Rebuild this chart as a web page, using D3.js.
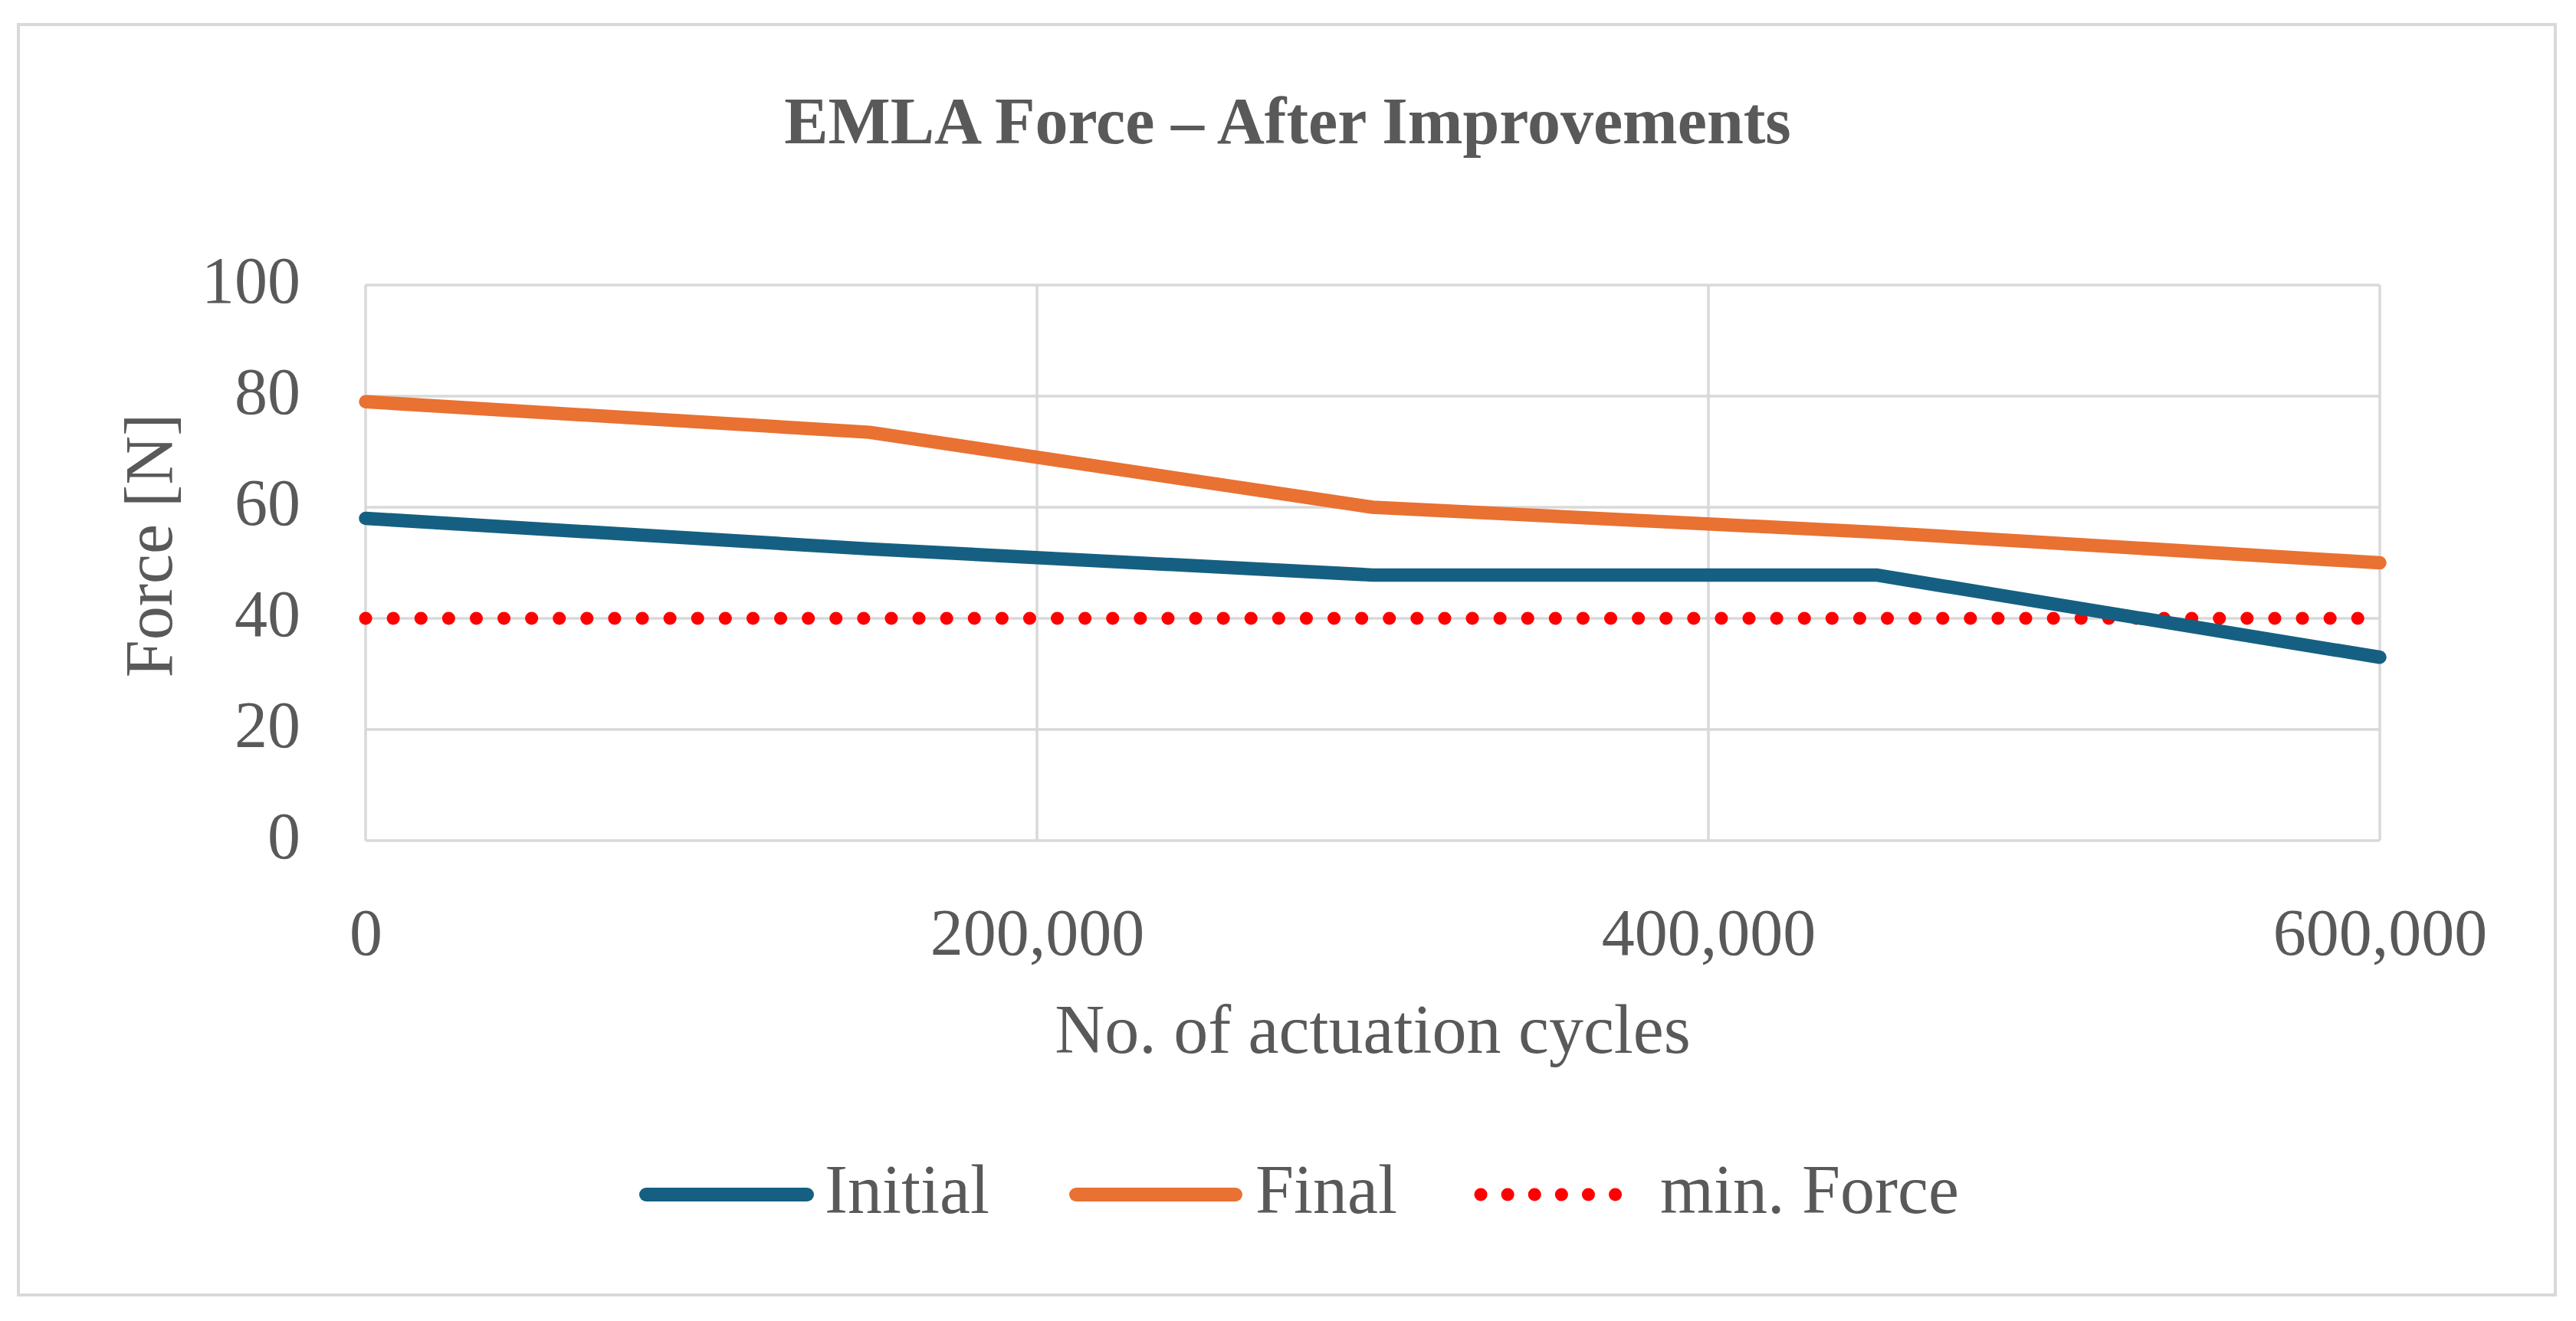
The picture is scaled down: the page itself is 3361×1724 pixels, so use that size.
<!DOCTYPE html>
<html>
<head>
<meta charset="utf-8">
<script src="https://cdn.jsdelivr.net/npm/d3@7"></script>
<style>
  body { margin: 0; background: #fff; }
  text { font-family: "Liberation Serif", "DejaVu Serif", serif; fill: #595959; }
</style>
</head>
<body>
<div id="chart"></div>
<script>
// data
var cycles = [0, 150000, 300000, 450000, 600000];
var initialForce = [58, 52.5, 47.8, 47.8, 33];
var finalForce = [79, 73.5, 60, 55.5, 50];
var minForce = [40, 40, 40, 40, 40];
var xTicks = [0, 200000, 400000, 600000];
var yTicks = [0, 20, 40, 60, 80, 100];
var seriesNames = ["Initial", "Final", "min. Force"];

var W = 3361, H = 1724;
var plot = { left: 477, right: 3105, top: 372, bottom: 1097 };

var svg = d3.select("#chart").append("svg")
    .attr("width", W)
    .attr("height", H);

// outer frame
svg.append("rect")
  .attr("x", 24).attr("y", 32)
  .attr("width", 3310).attr("height", 1658)
  .attr("fill", "#fff")
  .attr("stroke", "#d9d9d9")
  .attr("stroke-width", 4);

var x = d3.scaleLinear().domain([0, 600000]).range([plot.left, plot.right]);
var y = d3.scaleLinear().domain([0, 100]).range([plot.bottom, plot.top]);

// gridlines
var grid = svg.append("g");
grid.selectAll(".hg").data(yTicks).enter().append("line")
  .attr("x1", plot.left).attr("x2", plot.right)
  .attr("y1", function(d) { return y(d); })
  .attr("y2", function(d) { return y(d); })
  .attr("stroke", "#d9d9d9").attr("stroke-width", 3.5);
grid.selectAll(".vg").data(xTicks).enter().append("line")
  .attr("y1", plot.top).attr("y2", plot.bottom)
  .attr("x1", function(d) { return x(d); })
  .attr("x2", function(d) { return x(d); })
  .attr("stroke", "#d9d9d9").attr("stroke-width", 3.5);

// axes, drawn with d3 axis then stripped of domain/ticks
var yAxis = svg.append("g")
  .attr("transform", "translate(" + (plot.left - 85) + ",0)")
  .call(d3.axisLeft(y).tickValues(yTicks).tickSize(0).tickPadding(0));
yAxis.select(".domain").remove();
yAxis.selectAll("text")
  .attr("dy", "0.26em")
  .style("font-size", "86px")
  .style("font-family", "Liberation Serif")
  .attr("fill", "#595959");

var xAxis = svg.append("g")
  .attr("transform", "translate(0," + (plot.bottom + 149) + ")")
  .call(d3.axisBottom(x).tickValues(xTicks).tickFormat(d3.format(",")).tickSize(0).tickPadding(0));
xAxis.select(".domain").remove();
xAxis.selectAll("text")
  .attr("dy", 0)
  .style("font-size", "86px")
  .style("font-family", "Liberation Serif")
  .attr("fill", "#595959");

// lines
var line = d3.line()
  .x(function(d, i) { return x(cycles[i]); })
  .y(function(d) { return y(d); });

svg.append("path").datum(minForce)
  .attr("d", line)
  .attr("fill", "none")
  .attr("stroke", "#ff0000")
  .attr("stroke-width", 17)
  .attr("stroke-linecap", "round")
  .attr("stroke-dasharray", "0.1 36");

svg.append("path").datum(initialForce)
  .attr("d", line)
  .attr("fill", "none")
  .attr("stroke", "#156082")
  .attr("stroke-width", 17.5)
  .attr("stroke-linejoin", "round")
  .attr("stroke-linecap", "round");

svg.append("path").datum(finalForce)
  .attr("d", line)
  .attr("fill", "none")
  .attr("stroke", "#e97132")
  .attr("stroke-width", 17.5)
  .attr("stroke-linejoin", "round")
  .attr("stroke-linecap", "round");

// titles
svg.append("text")
  .attr("x", 1680).attr("y", 187)
  .attr("text-anchor", "middle")
  .style("font-size", "86px")
  .style("font-weight", "bold")
  .text("EMLA Force \u2013 After Improvements");

svg.append("text")
  .attr("x", (plot.left + plot.right) / 2).attr("y", 1374)
  .attr("text-anchor", "middle")
  .style("font-size", "90px")
  .text("No. of actuation cycles");

svg.append("text")
  .attr("transform", "translate(224," + 712 + ") rotate(-90)")
  .attr("text-anchor", "middle")
  .style("font-size", "88px")
  .text("Force [N]");

// legend
var legend = [
  { name: seriesNames[0], color: "#156082", x1: 843, x2: 1053, tx: 1076, dash: null },
  { name: seriesNames[1], color: "#e97132", x1: 1404, x2: 1612, tx: 1638, dash: null },
  { name: seriesNames[2], color: "#ff0000", x1: 1932, x2: 2112, tx: 2166, dash: "0.1 35" }
];
var lg = svg.append("g").selectAll("g").data(legend).enter().append("g");
lg.append("line")
  .attr("x1", function(d) { return d.x1; })
  .attr("x2", function(d) { return d.x2; })
  .attr("y1", 1559).attr("y2", 1559)
  .attr("stroke", function(d) { return d.color; })
  .attr("stroke-width", function(d) { return d.dash ? 17 : 18; })
  .attr("stroke-linecap", "round")
  .attr("stroke-dasharray", function(d) { return d.dash; });
lg.append("text")
  .attr("x", function(d) { return d.tx; })
  .attr("y", 1583)
  .style("font-size", "90px")
  .text(function(d) { return d.name; });
</script>
</body>
</html>
